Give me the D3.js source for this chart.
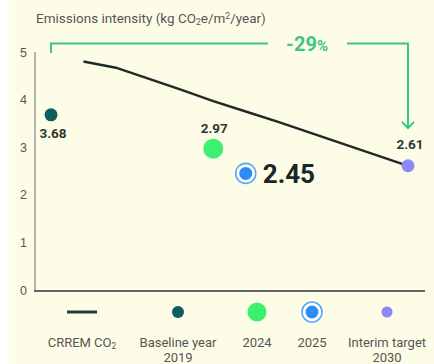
<!DOCTYPE html>
<html><head><meta charset="utf-8">
<script src="https://cdn.jsdelivr.net/npm/d3@7"></script>
<style>
html,body{margin:0;padding:0;background:#fff;}
svg{display:block;font-family:"Roboto","Liberation Sans",sans-serif;}
</style></head><body>
<script>
// ---- data ----
const crremYears = [2020,2021,2022,2023,2024,2025,2026,2027,2028,2029,2030];
const crremValues = [4.80,4.67,4.44,4.21,3.97,3.75,3.53,3.30,3.07,2.84,2.61];
const pointYears = [2019,2024,2025,2030];
const pointValues = [3.68,2.97,2.45,2.61];
const pointNames = ["Baseline year 2019","2024","2025","Interim target 2030"];
const yTicks = [0,1,2,3,4,5];
const legendLabels = [["CRREM CO\u2082"],["Baseline year","2019"],["2024"],["2025"],["Interim target","2030"]];
const reductionLabel = "-29";

const W=434,H=364;
const svg=d3.select("body").append("svg").attr("width",W).attr("height",H);
svg.append("rect").attr("x",8.5).attr("y",0).attr("width",W-8.5).attr("height",H).attr("fill","#fdfde7");

const x=d3.scaleLinear().domain([2019,2030]).range([51,408]);
const y=d3.scaleLinear().domain([0,5]).range([290,52]);

// title
const t=svg.append("text").attr("x",36).attr("y",23).attr("fill","#555").attr("font-size",13.5);
t.append("tspan").text("Emissions intensity (kg CO");
t.append("tspan").attr("font-size",8.5).attr("dy",2).text("2");
t.append("tspan").attr("dy",-2).text("e/m");
t.append("tspan").attr("font-size",8.5).attr("dy",-4).text("2");
t.append("tspan").attr("dy",4).text("/year)");

// y axis
const ya=svg.append("g").attr("transform","translate(35,0)")
  .call(d3.axisLeft(y).tickValues(yTicks).tickSize(0).tickPadding(8).tickFormat(d3.format("d")));
ya.select(".domain").remove();
ya.selectAll("text").attr("fill","#555").attr("font-size",12.5).attr("font-family",null);
svg.append("line").attr("x1",35).attr("x2",35).attr("y1",y(5)).attr("y2",y(0)).attr("stroke","#b5b5ad").attr("stroke-width",2);
svg.append("line").attr("x1",34).attr("x2",425).attr("y1",y(0)+1).attr("y2",y(0)+1).attr("stroke","#2a3333").attr("stroke-width",1.6);

// bracket
const green="#3cc48e";
const by=43.5;
const b=svg.append("g").attr("fill","none").attr("stroke",green).attr("stroke-width",2);
b.append("path").attr("d",`M${x(2019)},${y(5)+1}V${by}H268`);
b.append("path").attr("d",`M347,${by}H${x(2030)}V128`);
b.append("path").attr("d",`M${x(2030)-6},122L${x(2030)},128L${x(2030)+6},122`);
const pt=svg.append("text").attr("x",307).attr("y",by+7).attr("text-anchor","middle").attr("fill",green).attr("font-weight","bold").attr("font-size",20);
pt.append("tspan").text(reductionLabel);
pt.append("tspan").attr("font-size",15).text("%");

// CRREM line
svg.append("path").datum(crremYears.map((d,i)=>[d,crremValues[i]]))
  .attr("d",d3.line().x(d=>x(d[0])).y(d=>y(d[1])))
  .attr("fill","none").attr("stroke","#1e2a2a").attr("stroke-width",2.4);

// points
const styles=[
  {r:6.5,fill:"#0c5f5c"},
  {r:10,fill:"#3ef070"},
  {ring:true},
  {r:6.5,fill:"#8d88f8"}
];
function drawMarker(g,s){
  if(s.ring){
    g.append("circle").attr("r",10).attr("fill","#fff").attr("stroke","#5aa6f7").attr("stroke-width",1.6);
    g.append("circle").attr("r",6.5).attr("fill","#2b8cf4");
  } else g.append("circle").attr("r",s.r).attr("fill",s.fill);
}
pointYears.forEach((yr,i)=>{
  const g=svg.append("g").attr("transform",`translate(${x(yr)},${y(pointValues[i])})`);
  drawMarker(g,styles[i]);
});
const lab=(i,dx,dy,size)=>svg.append("text").attr("x",x(pointYears[i])+dx).attr("y",y(pointValues[i])+dy)
  .attr("text-anchor","middle").attr("font-weight","bold").attr("font-size",size).attr("fill","#2e3636").text(pointValues[i].toFixed(2));
lab(0,2,23,13.5);
lab(1,1,-16,13.5);
lab(3,2,-17,13.5);
svg.append("text").attr("x",x(pointYears[2])+17).attr("y",y(pointValues[2])+10).attr("font-weight","bold")
  .attr("font-size",26).attr("fill","#1b2626").text(pointValues[2].toFixed(2));

// legend
const lx=[82,178,257,312,387];
const ly=312;
svg.append("line").attr("x1",lx[0]-15).attr("x2",lx[0]+15).attr("y1",ly).attr("y2",ly).attr("stroke","#2d3a3a").attr("stroke-width",3);
[styles[0],{r:9.5,fill:"#3ef070"},styles[2],{r:5.5,fill:"#8d88f8"}].forEach((s,i)=>{
  const g=svg.append("g").attr("transform",`translate(${lx[i+1]},${ly})`);
  if(i===0) g.append("circle").attr("r",6).attr("fill",s.fill); else drawMarker(g,s);
});
legendLabels.forEach((lines,i)=>{
  const tx=svg.append("text").attr("x",lx[i]).attr("y",347).attr("text-anchor","middle").attr("fill","#555").attr("font-size",13);
  lines.forEach((l,j)=>{
    const sp=tx.append("tspan").attr("x",lx[i]).attr("dy",j?15:0);
    if(l.endsWith("\u2082")){
      sp.text(l.slice(0,-1));
      tx.append("tspan").attr("font-size",8.5).attr("dy",2).text("2");
    } else sp.text(l);
  });
});
</script></body></html>
